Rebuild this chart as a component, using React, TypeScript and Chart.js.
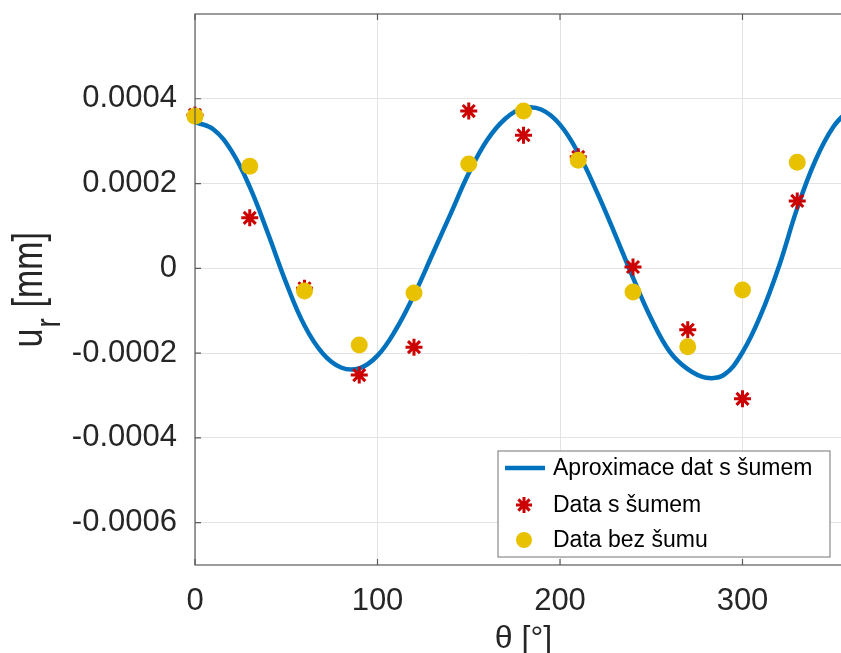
import React, { useEffect, useRef } from "react";
import { Chart, registerables } from "chart.js";

Chart.register(...registerables);

// ---- data ----
const sampleAngles = [0, 30, 60, 90, 120, 150, 180, 210, 240, 270, 300, 330];
const noisyValues = [
  0.000362, 0.000119, -0.000047, -0.000252, -0.000186, 0.000371, 0.000314, 0.000263, 0.000003,
  -0.000145, -0.000308, 0.000159,
];
const cleanValues = [
  0.000359, 0.000241, -0.0000535, -0.000181, -0.0000583, 0.000246, 0.000371, 0.000255,
  -0.0000561, -0.000185, -0.0000512, 0.00025,
];
const fitAngles = [
  0, 10, 20, 30, 40, 50, 60, 70, 80, 90, 100, 110, 120, 130, 140, 150, 160, 170, 180, 190, 200, 210,
  220, 230, 240, 250, 260, 270, 280, 290, 300, 310, 320, 330, 340, 350, 360,
];
const fitValues = [
  0.000345, 0.000328, 0.000277, 0.000192, 0.000082, -0.000035, -0.000135, -0.000201, -0.000234,
  -0.000236, -0.000206, -0.000145, -0.000063, 0.000032, 0.000128, 0.000224, 0.000302, 0.000353,
  0.000378, 0.000374, 0.000339, 0.000272, 0.000182, 0.000082, -0.000022, -0.000119, -0.000196,
  -0.000238, -0.000258, -0.000251, -0.000198, -0.000110, 0.000005, 0.000142, 0.000255, 0.000335,
  0.00038,
];
const xTickValues = [0, 100, 200, 300];
const xTickLabels = ["0", "100", "200", "300"];
const yTickValues = [-0.0006, -0.0004, -0.0002, 0, 0.0002, 0.0004];
const yTickLabels = ["-0.0006", "-0.0004", "-0.0002", "0", "0.0002", "0.0004"];
const seriesLabels = ["Aproximace dat s šumem", "Data s šumem", "Data bez šumu"];
const xTitle = "θ [°]";
const yTitleMain = "u";
const yTitleSub = "r";
const yTitleUnit = "[mm]";

const FONT = "'Liberation Sans', Arial, Helvetica, sans-serif";
const BLUE = "#0072BD";
const RED = "#CC0000";
const YELLOW = "#E8C200";
const TEXT = "#262626";

function drawStar(ctx: CanvasRenderingContext2D, x: number, y: number, r: number, color: string, w: number) {
  ctx.save();
  ctx.strokeStyle = color;
  ctx.lineWidth = w;
  ctx.beginPath();
  for (let k = 0; k < 4; k++) {
    const a = (k * Math.PI) / 4;
    ctx.moveTo(x - Math.cos(a) * r, y - Math.sin(a) * r);
    ctx.lineTo(x + Math.cos(a) * r, y + Math.sin(a) * r);
  }
  ctx.stroke();
  ctx.restore();
}

const zeroPad = (s: any) => {
  s.paddingTop = 0;
  s.paddingBottom = 0;
  s.paddingLeft = 0;
  s.paddingRight = 0;
};

const decorPlugin = {
  id: "decor",
  beforeDraw(chart: any) {
    const ctx = chart.ctx as CanvasRenderingContext2D;
    ctx.save();
    ctx.fillStyle = "#ffffff";
    ctx.fillRect(0, 0, chart.width, chart.height);
    ctx.restore();
  },
  afterDraw(chart: any) {
    const ctx = chart.ctx as CanvasRenderingContext2D;
    const a = chart.chartArea;
    const xs = chart.scales.x;
    const ys = chart.scales.y;

    // box
    ctx.save();
    ctx.strokeStyle = "#5a5a5a";
    ctx.lineWidth = 1.2;
    ctx.strokeRect(a.left, a.top, a.right - a.left, a.bottom - a.top);

    // inward tick marks
    const tl = 6;
    ctx.beginPath();
    xTickValues.forEach((v) => {
      const px = xs.getPixelForValue(v);
      ctx.moveTo(px, a.bottom);
      ctx.lineTo(px, a.bottom - tl);
      ctx.moveTo(px, a.top);
      ctx.lineTo(px, a.top + tl);
    });
    yTickValues.forEach((v) => {
      const py = ys.getPixelForValue(v);
      ctx.moveTo(a.left, py);
      ctx.lineTo(a.left + tl, py);
      ctx.moveTo(a.right, py);
      ctx.lineTo(a.right - tl, py);
    });
    ctx.stroke();
    ctx.restore();

    // x title
    ctx.save();
    ctx.fillStyle = TEXT;
    ctx.font = `32px ${FONT}`;
    ctx.textAlign = "center";
    ctx.textBaseline = "alphabetic";
    ctx.fillText(xTitle, (a.left + a.right) / 2, a.bottom + 83);
    ctx.restore();

    // y title with subscript
    ctx.save();
    ctx.fillStyle = TEXT;
    ctx.translate(42, (a.top + a.bottom) / 2);
    ctx.rotate(-Math.PI / 2);
    ctx.scale(1, 1.25);
    ctx.textBaseline = "alphabetic";
    ctx.textAlign = "left";
    ctx.font = `34px ${FONT}`;
    ctx.fillText(yTitleMain, -58, 0);
    ctx.font = `28px ${FONT}`;
    ctx.fillText(yTitleSub, -38, 14);
    ctx.font = `34px ${FONT}`;
    ctx.fillText(yTitleUnit, -18, 0);
    ctx.restore();

    // legend
    const ds = chart.data.datasets;
    const lw = 332;
    const lh = 106;
    const lx = a.right - 22 - lw;
    const ly = a.bottom - 8 - lh;
    ctx.save();
    ctx.fillStyle = "#ffffff";
    ctx.fillRect(lx, ly, lw, lh);
    ctx.strokeStyle = "#8a8a8a";
    ctx.lineWidth = 1.2;
    ctx.strokeRect(lx, ly, lw, lh);
    const rows = [ly + 17, ly + 54, ly + 89];
    const symX = lx + 26;
    ctx.strokeStyle = ds[0].borderColor;
    ctx.lineWidth = 4.5;
    ctx.beginPath();
    ctx.moveTo(lx + 7, rows[0]);
    ctx.lineTo(lx + 47, rows[0]);
    ctx.stroke();
    drawStar(ctx, symX, rows[1], 8, ds[1].borderColor, 3);
    ctx.fillStyle = ds[2].backgroundColor;
    ctx.beginPath();
    ctx.arc(symX, rows[2], 8, 0, Math.PI * 2);
    ctx.fill();
    ctx.fillStyle = "#000000";
    ctx.font = `23px ${FONT}`;
    ctx.textAlign = "left";
    ctx.textBaseline = "middle";
    ds.forEach((d: any, i: number) => {
      ctx.fillText(d.label, lx + 55, rows[i] + 1);
    });
    ctx.restore();
  },
};

export default function App() {
  const canvasRef = useRef<HTMLCanvasElement | null>(null);

  useEffect(() => {
    const canvas = canvasRef.current;
    if (!canvas) return;
    const chart = new Chart(canvas, {
      type: "scatter",
      data: {
        datasets: [
          {
            label: seriesLabels[0],
            data: fitAngles.map((x, i) => ({ x, y: fitValues[i] })),
            showLine: true,
            borderColor: BLUE,
            backgroundColor: BLUE,
            borderWidth: 4.5,
            pointRadius: 0,
            pointHoverRadius: 0,
            tension: 0.4,
            order: 3,
          } as any,
          {
            label: seriesLabels[1],
            data: sampleAngles.map((x, i) => ({ x, y: noisyValues[i] })),
            showLine: false,
            pointStyle: "star",
            pointRadius: 8.5,
            borderColor: RED,
            backgroundColor: RED,
            borderWidth: 3,
            order: 2,
            clip: false,
          } as any,
          {
            label: seriesLabels[2],
            data: sampleAngles.map((x, i) => ({ x, y: cleanValues[i] })),
            showLine: false,
            pointStyle: "circle",
            pointRadius: 8.5,
            borderColor: YELLOW,
            backgroundColor: YELLOW,
            borderWidth: 0,
            order: 1,
            clip: false,
          } as any,
        ],
      },
      options: {
        responsive: false,
        maintainAspectRatio: false,
        animation: false,
        devicePixelRatio: 1,
        events: [],
        layout: { autoPadding: false, padding: { top: 14, left: 0, right: 0, bottom: 0 } },
        plugins: { legend: { display: false }, tooltip: { enabled: false }, title: { display: false } },
        scales: {
          x: {
            type: "linear",
            min: 0,
            max: 360,
            afterBuildTicks: (s: any) => {
              s.ticks = xTickValues.map((v) => ({ value: v }));
            },
            afterFit: (s: any) => {
              s.height = 88;
              zeroPad(s);
            },
            ticks: {
              callback: (_v: any, i: number) => xTickLabels[i],
              font: { family: FONT, size: 31 },
              color: TEXT,
              padding: 18,
              maxRotation: 0,
              autoSkip: false,
            },
            grid: { color: "#e3e3e3", lineWidth: 1, drawTicks: false },
            border: { display: false },
          },
          y: {
            type: "linear",
            min: -0.0007,
            max: 0.0006,
            afterBuildTicks: (s: any) => {
              s.ticks = yTickValues.map((v) => ({ value: v }));
            },
            afterFit: (s: any) => {
              s.width = 195;
              zeroPad(s);
            },
            ticks: {
              callback: (_v: any, i: number) => yTickLabels[i],
              font: { family: FONT, size: 31 },
              color: TEXT,
              padding: 18,
              autoSkip: false,
            },
            grid: { color: "#e3e3e3", lineWidth: 1, drawTicks: false },
            border: { display: false },
          },
        },
      } as any,
      plugins: [decorPlugin],
    });
    return () => chart.destroy();
  }, []);

  return (
    <div
      style={{
        position: "fixed",
        left: 0,
        top: 0,
        width: 841,
        height: 653,
        overflow: "hidden",
        background: "#ffffff",
      }}
    >
      <canvas ref={canvasRef} width={852} height={653} style={{ display: "block", width: 852, height: 653 }} />
    </div>
  );
}
